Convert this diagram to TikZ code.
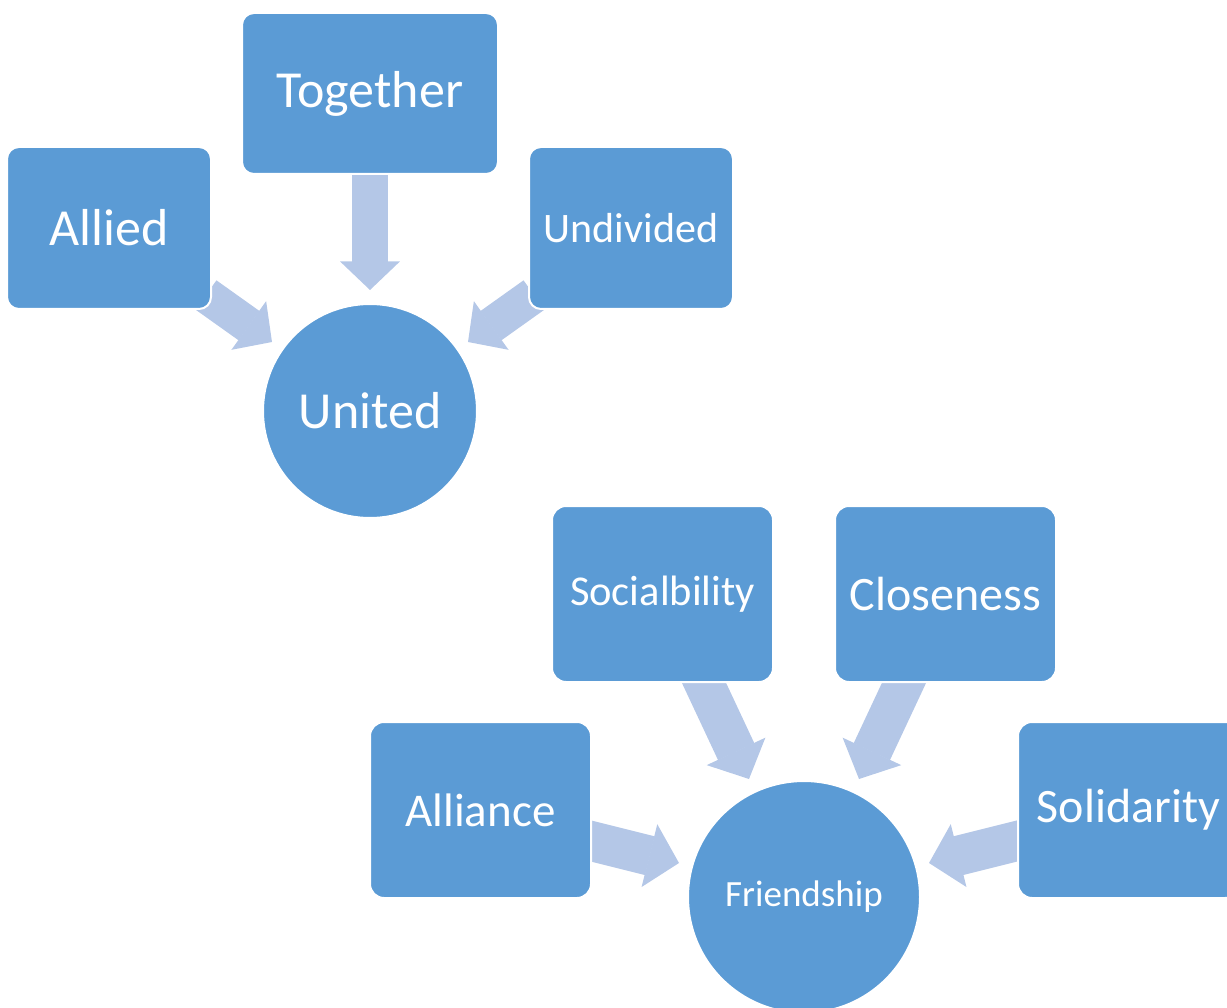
\documentclass[tikz,border=0pt]{standalone}
\usepackage{fontspec}
\setmainfont{Carlito}
\usetikzlibrary{arrows.meta,backgrounds}
\definecolor{boxblue}{HTML}{5B9BD5}
\definecolor{arrowblue}{HTML}{B4C7E7}
\begin{document}
\begin{tikzpicture}[x=1pt,y=-1pt,
  box/.style={rectangle, rounded corners=12pt, fill=boxblue, draw=white, line width=2pt, text=white, inner sep=0pt, align=center},
  boxB/.style={box, rounded corners=14pt, minimum width=221pt, minimum height=176pt},
  circ/.style={circle, fill=boxblue, draw=white, line width=2pt, text=white, inner sep=0pt},
  barrow/.style={draw=arrowblue, line width=36pt, -{Triangle[length=28.5pt,width=59.5pt,line width=1.5pt]}},
  barrowB/.style={draw=arrowblue, line width=40pt, -{Triangle[length=30.5pt,width=64.5pt,line width=1.5pt]}}]
\clip (0,0) rectangle (1227,1008);
% top group
\node[box, minimum width=256pt, minimum height=161pt, font=\fontsize{52}{60}\selectfont] (together) at (370,93.5) {Together};
\node[box, minimum width=204pt, minimum height=162pt, font=\fontsize{52}{60}\selectfont] (allied) at (109,228) {Allied};
\node[box, minimum width=204pt, minimum height=162pt, font=\fontsize{42}{50}\selectfont] (undivided) at (631,228) {Undivided};
\node[circ, minimum size=214pt, font=\fontsize{52}{60}\selectfont] (united) at (370,411) {United};
% bottom group
\node[boxB, font=\fontsize{42.5}{50}\selectfont] (social) at (662.5,594) {Socialbility};
\node[boxB, font=\fontsize{48}{56}\selectfont] (close) at (945.5,594) {Closeness};
\node[boxB, font=\fontsize{47}{56}\selectfont] (alliance) at (480.5,810) {Alliance};
\node[boxB, font=\fontsize{48}{56}\selectfont] (solid) at (1128.5,810) {Solidarity};
\node[circ, minimum size=232pt, font=\fontsize{37}{44}\selectfont] (friend) at (804,897) {Friendship};
% arrow end coordinates
\coordinate (a1s) at (370,170);   \coordinate (a1e) at (370,290);
\coordinate (a2s) at (206,295);   \coordinate (a2e) at (272,342);
\coordinate (a3s) at (534,295);   \coordinate (a3e) at (468,342);
\coordinate (b1s) at (698.6,671.4); \coordinate (b1e) at (749,779);
\coordinate (b2s) at (909.4,671.4); \coordinate (b2e) at (859,779);
\coordinate (b3s) at (583,839);   \coordinate (b3e) at (679,863);
\coordinate (b4s) at (1025,839);  \coordinate (b4e) at (929,863);
\begin{pgfonlayer}{background}
\draw[barrow] (a1s) -- (a1e);
\draw[barrow] (a2s) -- (a2e);
\draw[barrow] (a3s) -- (a3e);
\draw[barrowB] (b1s) -- (b1e);
\draw[barrowB] (b2s) -- (b2e);
\draw[barrowB] (b3s) -- (b3e);
\draw[barrowB] (b4s) -- (b4e);
\end{pgfonlayer}
\end{tikzpicture}
\end{document}
